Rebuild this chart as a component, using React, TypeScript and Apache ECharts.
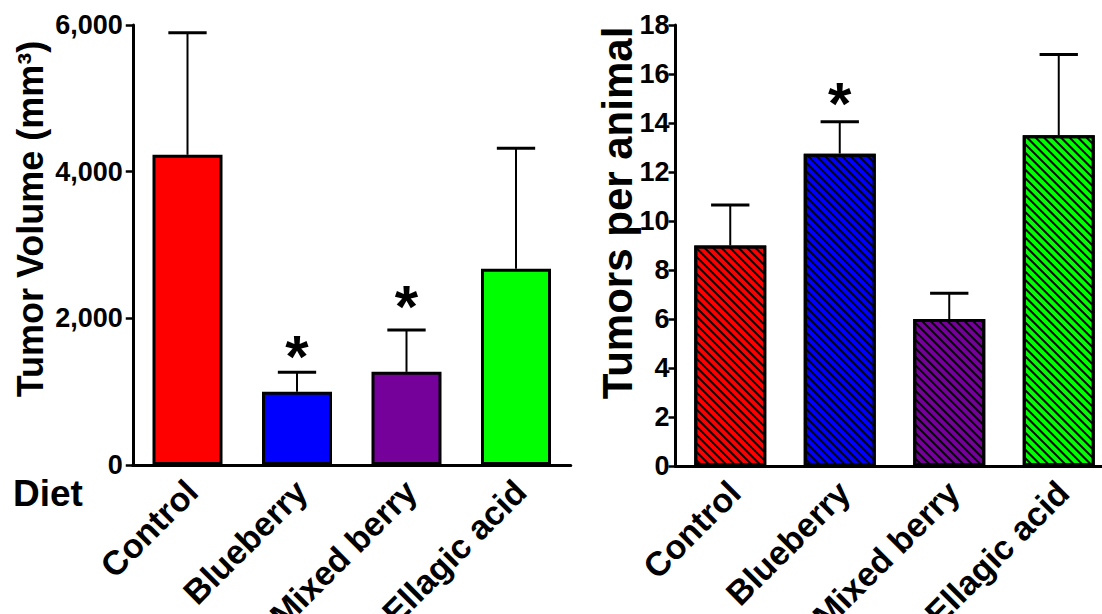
import React, { useEffect, useRef } from 'react';
import * as echarts from 'echarts';

const categories = ['Control', 'Blueberry', 'Mixed berry', 'Ellagic acid'];
const barColors = ['#FF0000', '#0000FF', '#75009A', '#00FF00'];

const volumeMean = [4230, 1000, 1270, 2675];
const volumeSem = [1665, 265, 570, 1645];
const volumeStarAt = [0, 1640, 2330, 0]; // 0 = no asterisk
const volumeTicks = { min: 0, max: 6000, interval: 2000 };

const tumorsMean = [9.0, 12.75, 6.0, 13.5];
const tumorsSem = [1.65, 1.3, 1.05, 3.3];
const tumorsStarAt = [0, 15.3, 0, 0];
const tumorsTicks = { min: 0, max: 18, interval: 2 };

const FONT = "'Liberation Sans', Arial, sans-serif";
const STAR_SIZE = 60;

const errorRender = (params: any, api: any) => {
  const i = api.value(0);
  const v = api.value(1);
  const e = api.value(2);
  const star = api.value(3);
  const base = api.coord([i, v]);
  const top = api.coord([i, v + e]);
  const band = api.size([1, 0])[0];
  const half = band * 0.175;
  const children: any[] = [
    { type: 'line', shape: { x1: base[0], y1: base[1], x2: top[0], y2: top[1] }, style: { stroke: '#000', lineWidth: 2 } },
    { type: 'line', shape: { x1: top[0] - half, y1: top[1], x2: top[0] + half, y2: top[1] }, style: { stroke: '#000', lineWidth: 3 } },
  ];
  if (star > 0) {
    const s = api.coord([i, star]);
    children.push({
      type: 'text',
      x: s[0],
      y: s[1] + STAR_SIZE * 0.2,
      style: {
        text: '*', font: `bold ${STAR_SIZE}px ${FONT}`, fill: '#000',
        align: 'center', verticalAlign: 'middle', textAlign: 'center', textVerticalAlign: 'middle',
      },
    });
  }
  return { type: 'group', children };
};

export default function App() {
  const ref = useRef<HTMLDivElement>(null);
  useEffect(() => {
    if (!ref.current) return;
    const chart = echarts.init(ref.current, undefined, { renderer: 'svg' });
    const axisLabelX = {
      interval: 0, rotate: 45, margin: 1, verticalAlign: 'top', padding: [0, 11, 0, 0],
      fontSize: 34, fontWeight: 'bold', color: '#000', fontFamily: FONT,
    };
    const decal = {
      symbol: 'rect', symbolSize: 1, dashArrayX: [1, 0], dashArrayY: [2, 3.4],
      rotation: Math.PI / 4, color: '#000',
    };
    chart.setOption({
      animation: false,
      grid: [
        { left: 132.75, top: 25, width: 438, height: 440, outerBoundsMode: 'none', containLabel: false },
        { left: 675.5, top: 25, width: 438, height: 441, outerBoundsMode: 'none', containLabel: false },
      ],
      xAxis: [0, 1].map((g) => ({
        type: 'category', gridIndex: g, data: categories,
        axisLine: { lineStyle: { color: '#000', width: 3 } },
        axisTick: { show: false },
        axisLabel: axisLabelX,
      })),
      yAxis: [
        {
          type: 'value', gridIndex: 0, ...volumeTicks,
          splitLine: { show: false },
          axisLine: { show: true, lineStyle: { color: '#000', width: 3 } },
          axisTick: { show: true, length: 7, lineStyle: { color: '#000', width: 2.5 } },
          axisLabel: {
            margin: 10, fontSize: 27, fontWeight: 'bold', color: '#000', fontFamily: FONT,
            formatter: (v: number) => v.toLocaleString('en-US'),
          },
        },
        {
          type: 'value', gridIndex: 1, ...tumorsTicks,
          splitLine: { show: false },
          axisLine: { show: true, lineStyle: { color: '#000', width: 3 } },
          axisTick: { show: true, length: 7, lineStyle: { color: '#000', width: 2.5 } },
          axisLabel: { margin: 6, fontSize: 27, fontWeight: 'bold', color: '#000', fontFamily: FONT },
        },
      ],
      series: [
        {
          type: 'bar', xAxisIndex: 0, yAxisIndex: 0, barWidth: 70,
          data: volumeMean.map((v, i) => ({
            value: v, itemStyle: { color: barColors[i], borderColor: '#000', borderWidth: 3 },
          })),
        },
        {
          type: 'custom', xAxisIndex: 0, yAxisIndex: 0, renderItem: errorRender,
          encode: { x: 0, y: 1 },
          data: volumeMean.map((v, i) => [i, v, volumeSem[i], volumeStarAt[i]]),
          z: 3,
        },
        {
          type: 'bar', xAxisIndex: 1, yAxisIndex: 1, barWidth: 72,
          data: tumorsMean.map((v, i) => ({
            value: v, itemStyle: { color: barColors[i], borderColor: '#000', borderWidth: 3, decal },
          })),
        },
        {
          type: 'custom', xAxisIndex: 1, yAxisIndex: 1, renderItem: errorRender,
          encode: { x: 0, y: 1 },
          data: tumorsMean.map((v, i) => [i, v, tumorsSem[i], tumorsStarAt[i]]),
          z: 3,
        },
      ],
      graphic: [
        {
          type: 'text', x: 30, y: 219, rotation: Math.PI / 2,
          style: {
            text: 'Tumor Volume (mm³)', font: `bold 36px ${FONT}`, fill: '#000',
            align: 'center', verticalAlign: 'middle',
          },
        },
        {
          type: 'text', x: 617, y: 213, rotation: Math.PI / 2,
          style: {
            text: 'Tumors per animal', font: `bold 42px ${FONT}`, fill: '#000',
            align: 'center', verticalAlign: 'middle',
          },
        },
        {
          type: 'text', x: 13, y: 493,
          style: {
            text: 'Diet', font: `bold 37px ${FONT}`, fill: '#000',
            align: 'left', verticalAlign: 'middle',
          },
        },
      ],
    });
    return () => chart.dispose();
  }, []);
  return <div ref={ref} style={{ position: 'absolute', left: 0, top: 0, width: 1102, height: 614 }} />;
}
